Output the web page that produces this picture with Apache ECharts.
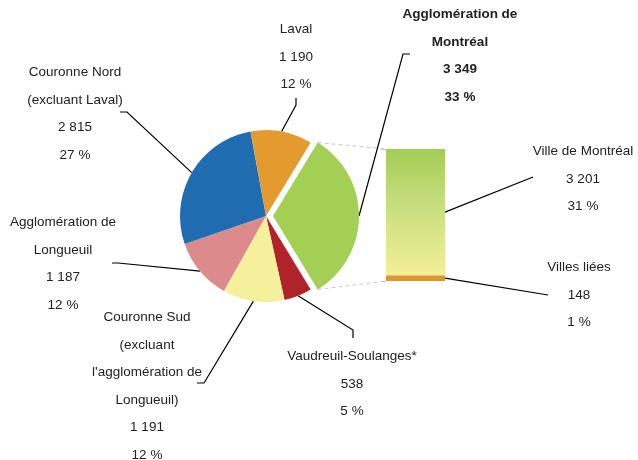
<!DOCTYPE html>
<html>
<head>
<meta charset="utf-8">
<script src="https://cdn.jsdelivr.net/npm/echarts@6/dist/echarts.min.js"></script>
<style>
html, body { margin: 0; padding: 0; background: #fff; }
#main { width: 638px; height: 460px; }
</style>
</head>
<body>
<div id="main"></div>
<script>
// pie data, clockwise from the exploded slice
var pieNames = ['Agglomération de\nMontréal', 'Vaudreuil-Soulanges*', 'Couronne Sud\n(excluant\nl\'agglomération de\nLongueuil)',
    'Agglomération de\nLongueuil', 'Couronne Nord\n(excluant Laval)', 'Laval'];
var pieValues = [3349, 538, 1191, 1187, 2815, 1190];
var pieColors = ['#a3cf55', '#b0232a', '#f5f09b', '#dc8b8d', '#1f6cb0', '#e39a2f'];
// breakdown of the exploded slice (bottom to top)
var barNames = ['Villes liées', 'Ville de Montréal'];
var barValues = [148, 3201];

var total = 0;
for (var i = 0; i < pieValues.length; i++) total += pieValues[i];

function fmt(v) {
    return String(v).replace(/\B(?=(\d{3})+(?!\d))/g, ' ');
}
function labelText(name, v) {
    return name + '\n' + fmt(v) + '\n' + Math.round(v / total * 100) + ' %';
}

var font = "'Liberation Sans Narrow', 'Arial Narrow', 'Liberation Sans', Arial, sans-serif";
var cx = 266, cy = 216, r = 86, offset = 7;
var gridLeft = 386, gridTop = 149, gridW = 59, gridH = 132;

// label placement: x center, y top, bend point, end point of guide line
var pieLabelPos = [
    {x: 460, y: 1, bend: [403, 54], end: [410, 54]},
    {x: 352, y: 343, bend: [353, 330], end: [353, 338]},
    {x: 147, y: 304, bend: [204, 383], end: [197, 383]},
    {x: 63, y: 209, bend: [118, 263], end: [112, 263]},
    {x: 75, y: 59, bend: [127, 112], end: [120, 112]},
    {x: 296, y: 16, bend: [296, 105], end: [296, 98]}
];
var barLabelPos = [
    {x: 579, y: 254, end: [548, 295]},
    {x: 583, y: 138, end: [533, 177]}
];

var labelStyle = {
    color: '#222',
    fontFamily: font,
    fontSize: 13.5,
    lineHeight: 27.5,
    align: 'center'
};

// two pie layers: the main one, and the exploded slice shifted to the right
function pieData(exploded) {
    var out = [];
    for (var i = 0; i < pieValues.length; i++) {
        var own = exploded ? i === 0 : i !== 0;
        var d = {name: pieNames[i], value: pieValues[i],
            itemStyle: {color: own ? pieColors[i] : 'rgba(0,0,0,0)'}};
        if (!own) {
            d.label = {show: false};
            d.labelLine = {show: false};
        } else if (exploded) {
            d.label = {fontWeight: 'bold'};
        }
        out.push(d);
    }
    return out;
}

function pieSeries(exploded) {
    return {
        type: 'pie',
        center: [exploded ? cx + offset : cx, cy],
        radius: r,
        startAngle: pieValues[0] / total * 180,
        clockwise: true,
        silent: true,
        emphasis: {disabled: true},
        itemStyle: {borderWidth: 0},
        data: pieData(exploded),
        label: Object.assign({
            formatter: function (p) { return labelText(p.name, p.value); }
        }, labelStyle),
        labelLine: {show: true, lineStyle: {color: '#000', width: 1.2}},
        labelLayout: function (p) {
            var pos = pieLabelPos[p.dataIndex];
            var out = {x: pos.x, y: pos.y, align: 'center', verticalAlign: 'top'};
            if (p.labelLinePoints && p.labelLinePoints[0]) {
                out.labelLinePoints = [p.labelLinePoints[0], pos.bend, pos.end];
            }
            return out;
        }
    };
}

function barLabel(k) {
    return Object.assign({show: true, position: 'right',
        formatter: function () { return labelText(barNames[k], barValues[k]); }
    }, labelStyle);
}
function barLayout(k) {
    return function () {
        return {x: barLabelPos[k].x, y: barLabelPos[k].y, align: 'center', verticalAlign: 'top'};
    };
}

var myChart = echarts.init(document.getElementById('main'));
var option = {
    backgroundColor: '#fff',
    animation: false,
    grid: {left: gridLeft, top: gridTop, width: gridW, height: gridH},
    xAxis: {type: 'category', data: [''], show: false},
    yAxis: {
        type: 'value', min: 0, max: pieValues[0], interval: pieValues[0],
        axisLine: {show: false}, axisLabel: {show: false}, splitLine: {show: false},
        axisTick: {show: true, length: 4, lineStyle: {color: '#c8c8c8'}}
    },
    series: [
        pieSeries(false),
        pieSeries(true),
        {
            type: 'bar',
            name: barNames[0],
            stack: 'm',
            barWidth: '100%',
            silent: true,
            data: [barValues[0]],
            itemStyle: {color: '#e0962c'},
            label: barLabel(0),
            labelLayout: barLayout(0)
        },
        {
            type: 'bar',
            name: barNames[1],
            stack: 'm',
            barWidth: '100%',
            silent: true,
            data: [barValues[1]],
            itemStyle: {
                color: new echarts.graphic.LinearGradient(0, 0, 0, 1, [
                    {offset: 0, color: '#a2cd54'},
                    {offset: 0.45, color: '#c8de80'},
                    {offset: 1, color: '#f4f09a'}
                ])
            },
            label: barLabel(1),
            labelLayout: barLayout(1)
        }
    ]
};
myChart.setOption(option);

// dashed connectors from the exploded slice to the bar, and bar guide lines
var half = pieValues[0] / total * Math.PI;
var topPt = myChart.convertToPixel({gridIndex: 0}, [0, pieValues[0]]);
var botPt = myChart.convertToPixel({gridIndex: 0}, [0, 0]);
var barLeft = topPt[0] - gridW / 2;
var barRight = topPt[0] + gridW / 2;
var p1 = [cx + offset + r * Math.cos(half), cy - r * Math.sin(half)];
var p2 = [cx + offset + r * Math.cos(half), cy + r * Math.sin(half)];
var villeMid = myChart.convertToPixel({gridIndex: 0}, [0, barValues[0] + barValues[1] / 2]);
var lieesMid = myChart.convertToPixel({gridIndex: 0}, [0, barValues[0] / 2]);
var dash = {stroke: '#c8c8c8', lineWidth: 1, lineDash: [4, 3]};
var solid = {stroke: '#000', lineWidth: 1.2};
myChart.setOption({
    graphic: [
        {type: 'line', shape: {x1: p1[0], y1: p1[1], x2: barLeft, y2: topPt[1]}, style: dash, silent: true},
        {type: 'line', shape: {x1: p2[0], y1: p2[1], x2: barLeft, y2: botPt[1]}, style: dash, silent: true},
        {type: 'line', shape: {x1: barRight, y1: villeMid[1], x2: barLabelPos[1].end[0], y2: barLabelPos[1].end[1]}, style: solid, silent: true},
        {type: 'line', shape: {x1: barRight, y1: lieesMid[1], x2: barLabelPos[0].end[0], y2: barLabelPos[0].end[1]}, style: solid, silent: true}
    ]
});
</script>
</body>
</html>
